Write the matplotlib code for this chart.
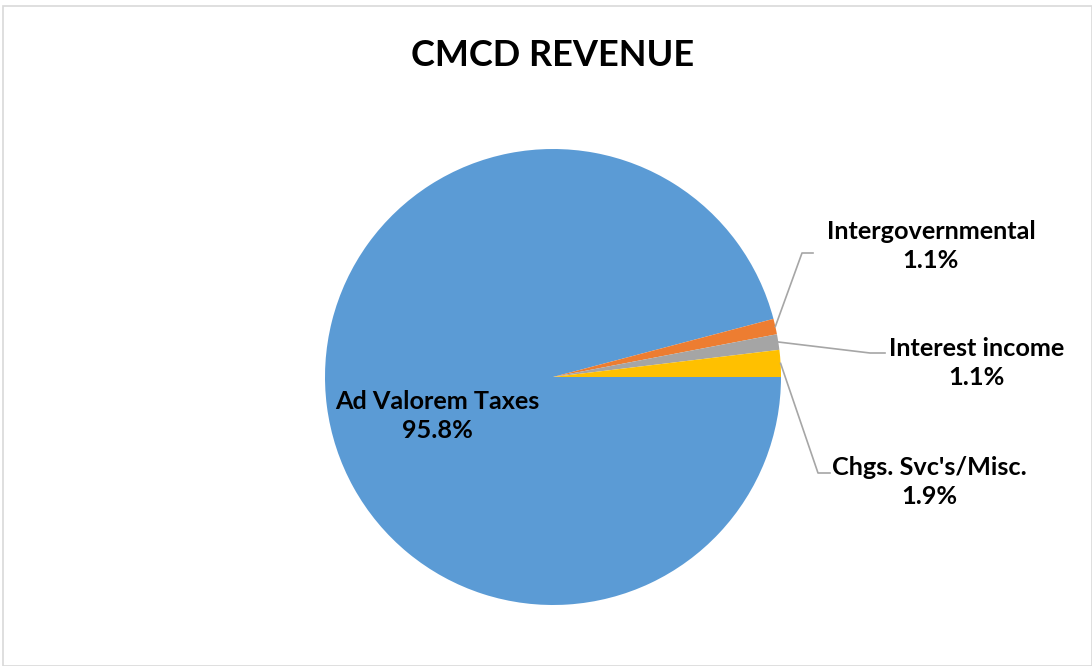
import matplotlib.pyplot as plt
import numpy as np
from matplotlib.patches import Rectangle

labels = ["Ad Valorem Taxes", "Intergovernmental", "Interest income", "Chgs. Svc's/Misc."]
shares = [95.8, 1.1, 1.1, 1.9]
colors = ["#5B9BD5", "#ED7D31", "#A5A5A5", "#FFC000"]

W, H = 1092, 666
cx, cy, r = 553, 377, 228

fig = plt.figure(figsize=(W / 100, H / 100), dpi=100)
fig.patches.append(Rectangle((3 / W, 0.0), 1 - 3 / W, 1 - 6 / H, transform=fig.transFigure,
                             fill=False, edgecolor="#D9D9D9", linewidth=1.2))

ax = fig.add_axes([(cx - r) / W, (H - cy - r) / H, 2 * r / W, 2 * r / H])
wedges, _ = ax.pie(shares, colors=colors, startangle=0, counterclock=False, radius=1,
                   wedgeprops=dict(linewidth=0))
ax.set_xlim(-1, 1)
ax.set_ylim(-1, 1)
ax.axis("off")

font = dict(family=["Lato", "DejaVu Sans"], fontweight="bold", fontsize=18.2, color="black")

def px(x, y):
    return (x - cx) / r, (cy - y) / r

# label centers and leader elbows (pixel layout)
lab_pos = [(437, 416), (931, 246), (977, 363), (929, 482)]
elbows = [None, ((802, 253), (813, 253)), ((870, 353), (885, 353)), ((818, 473), (830, 473))]

for i, w in enumerate(wedges):
    tx, ty = px(*lab_pos[i])
    ax.text(tx, ty, "%s\n%.1f%%" % (labels[i], shares[i]), ha="center", va="center",
            linespacing=1.3, clip_on=False, **font)
    if elbows[i] is not None:
        ang = np.deg2rad((w.theta1 + w.theta2) / 2)
        sx, sy = np.cos(ang), np.sin(ang)
        (ex, ey), (fx, fy) = [px(*p) for p in elbows[i]]
        ax.plot([sx, ex, fx], [sy, ey, fy], color="#A6A6A6", linewidth=1.2, clip_on=False)

fig.text(553 / W, 1 - 55 / H, "CMCD REVENUE", ha="center", va="center",
         family=["Lato", "DejaVu Sans"], fontweight="bold", fontsize=26)

fig.savefig("out.png", dpi=100)
